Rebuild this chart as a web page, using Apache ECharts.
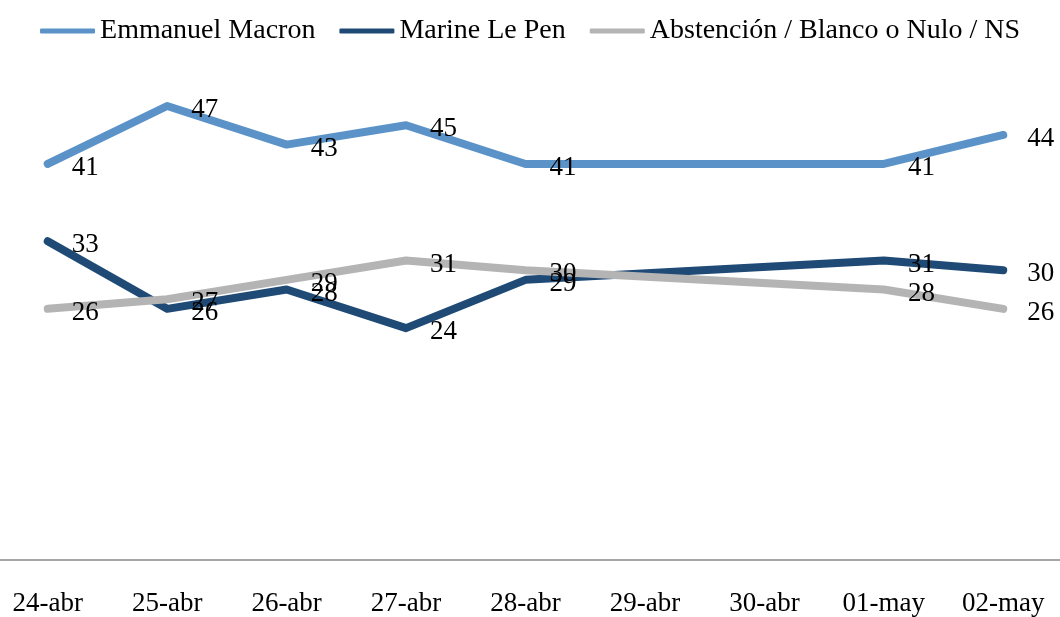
<!DOCTYPE html>
<html>
<head>
<meta charset="utf-8">
<script src="https://cdn.jsdelivr.net/npm/echarts@6/dist/echarts.min.js"></script>
<style>html,body{margin:0;padding:0;background:#fff}#c{width:1060px;height:617px}</style>
</head>
<body>
<div id="c"></div>
<script>
const categories = ['24-abr','25-abr','26-abr','27-abr','28-abr','29-abr','30-abr','01-may','02-may'];
const macron = [41, 47, 43, 45, 41, null, null, 41, 44];
const lePen = [33, 26, 28, 24, 29, null, null, 31, 30];
const otros = [26, 27, 29, 31, 30, null, null, 28, 26];
const names = ['Emmanuel Macron', 'Marine Le Pen', 'Abstención / Blanco o Nulo / NS'];
const colors = ['#5B93C9', '#1F4A75', '#B4B4B4'];
const FONT = '"Liberation Serif", serif';

const chart = echarts.init(document.getElementById('c'));
function mk(name, data, color) {
  return {
    name, type: 'line', data, connectNulls: true,
    symbol: 'circle', symbolSize: 0.1, showSymbol: true,
    lineStyle: { color, width: 8, cap: 'round', join: 'round' },
    itemStyle: { color },
    label: { show: true, position: 'right', distance: 24, offset: [0, 4],
      color: '#000', fontFamily: FONT, fontSize: 27 },
    emphasis: { disabled: true },
    animation: false
  };
}
chart.setOption({
  animation: false,
  legend: {
    top: 12, left: 'center', icon: 'roundRect', itemWidth: 55, itemHeight: 5, itemGap: 24,
    textStyle: { fontFamily: FONT, fontSize: 28, color: '#000', padding: [0,0,0,0] },
    data: names.map((n, i) => ({ name: n, itemStyle: { color: colors[i] } }))
  },
  grid: { left: -12, right: -3, top: 77, bottom: 57, containLabel: false, outerBoundsMode: 'none' },
  xAxis: {
    type: 'category', data: categories, boundaryGap: true,
    axisLine: { lineStyle: { color: '#A6A6A6', width: 2 } },
    axisTick: { show: false },
    axisLabel: { fontFamily: FONT, fontSize: 27, color: '#000', margin: 30, interval: 0 }
  },
  yAxis: { type: 'value', min: 0, max: 50, show: false, splitLine: { show: false } },
  series: [mk(names[0], macron, colors[0]), mk(names[1], lePen, colors[1]), mk(names[2], otros, colors[2])]
});
</script>
</body>
</html>
